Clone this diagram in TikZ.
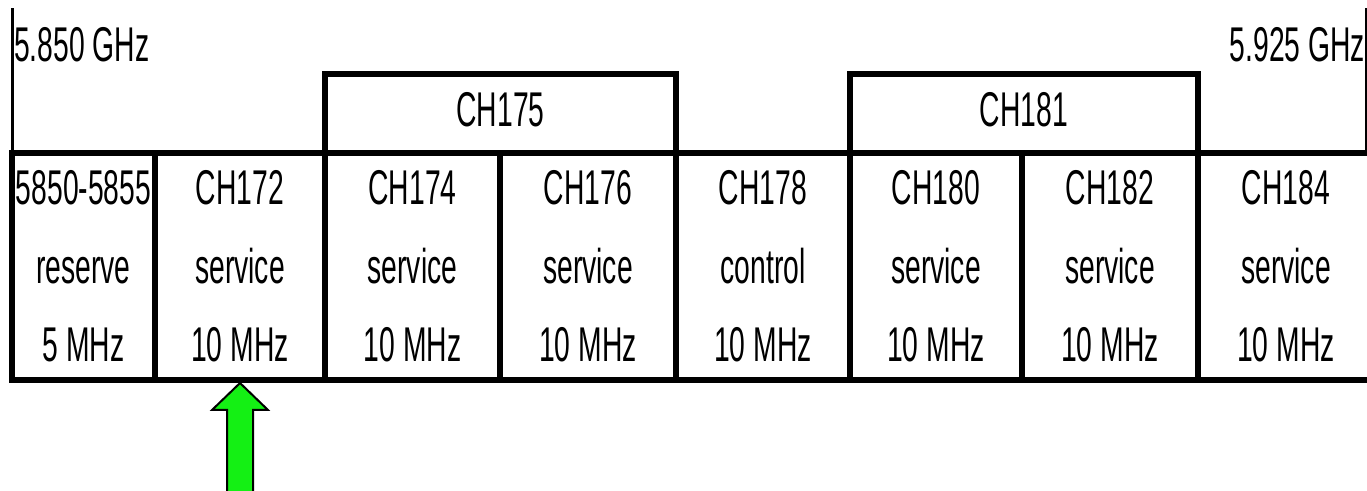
\documentclass[tikz,border=0pt]{standalone}
\usepackage{fontspec}
\setmainfont{Liberation Sans}[FakeStretch=0.58]
\usepackage{tikz}
\usetikzlibrary{positioning, calc}

\definecolor{arrowgreen}{RGB}{20,240,20}
\newcommand{\chfont}{\fontsize{24.4pt}{39.25pt}\selectfont}

\tikzset{
    cellbox/.style={draw, line width=3pt, inner sep=0pt, outer sep=0pt,
        minimum height=113.5pt, align=center},
    groupbox/.style={draw, line width=3pt, inner sep=0pt, outer sep=0pt,
        minimum height=39.5pt, text depth=4.5pt},
    edgeline/.style={line width=1.5pt},
    edgelabel/.style={inner sep=0pt, outer sep=0pt},
    greenarrow/.style={draw=black, line width=1pt, fill=arrowgreen, line join=miter},
}

\begin{document}
\begin{tikzpicture}[x=0.5pt, y=-0.5pt, font=\chfont]
    \useasboundingbox (0,0) rectangle (1367,491);
    \clip (0,0) rectangle (1367,491);

    % --- Channel cells ---
    \foreach \i/\xa/\xb/\chname/\use/\bw in {
        1/12/155/5850-5855/reserve/5 MHz,
        2/155/325/CH172/service/10 MHz,
        3/325/500/CH174/service/10 MHz,
        4/500/676/CH176/service/10 MHz,
        5/676/850/CH178/control/10 MHz,
        6/850/1022/CH180/service/10 MHz,
        7/1022/1198/CH182/service/10 MHz,
        8/1198/1374/CH184/service/10 MHz}{
        \node[cellbox, minimum width={(\xb-\xa)*0.5pt}] (cell\i)
            at ({(\xa+\xb)/2},266.5) {\chname\\\use\\\bw};
    }

    % --- Wide channels above ---
    \node[groupbox, minimum width=175.5pt] (ch175) at (500.5,113.5) {CH175};
    \node[groupbox, minimum width=174pt] (ch181) at (1024,113.5) {CH181};

    % --- Band edges ---
    \draw[edgeline] (cell1.north west) -- ++(0,-145);
    \coordinate (bandtop) at (1366,153);
    \draw[edgeline] (bandtop) -- ++(0,-145);
    \node[edgelabel, anchor=base west] (lowfreq) at (14,62) {5.850 GHz};
    \node[edgelabel, anchor=base east] (highfreq) at (1365,62) {5.925 GHz};

    % --- Marker arrow under CH172 ---
    \draw[greenarrow] ([yshift=-1.5pt]cell2.south) -- ++(28,27) -- ++(-15,0)
        -- ++(0,100) -- ++(-26,0) -- ++(0,-100) -- ++(-15,0) -- cycle;

\end{tikzpicture}
\end{document}
